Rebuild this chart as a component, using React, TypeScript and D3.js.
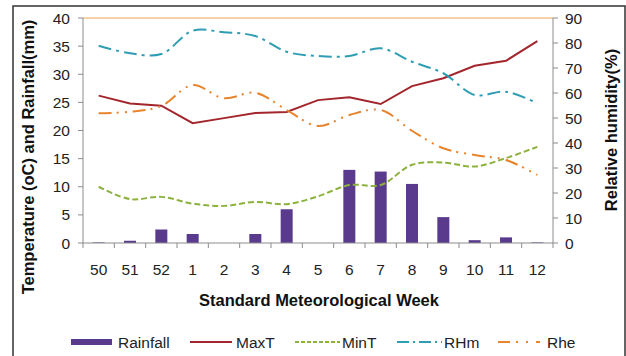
import React from "react";
import * as d3 from "d3";

const weeks = ["50", "51", "52", "1", "2", "3", "4", "5", "6", "7", "8", "9", "10", "11", "12"];
const rainfall = [0.1, 0.4, 2.4, 1.6, 0, 1.6, 6.0, 0, 13.0, 12.7, 10.5, 4.6, 0.5, 1.0, 0.1];
const maxT = [26.2, 24.8, 24.4, 21.3, 22.2, 23.1, 23.3, 25.4, 25.9, 24.7, 27.9, 29.3, 31.5, 32.4, 35.9];
const minT = [10.0, 7.8, 8.2, 7.0, 6.6, 7.3, 6.9, 8.3, 10.3, 10.3, 13.9, 14.3, 13.6, 15.1, 17.1];
const rhm = [78.9, 75.9, 75.6, 84.9, 84.3, 82.8, 76.5, 74.8, 74.8, 77.9, 72.5, 67.9, 59.2, 60.5, 55.9];
const rhe = [51.9, 52.5, 54.8, 63.2, 57.9, 60.1, 53.2, 46.8, 51.2, 53.2, 44.9, 37.9, 35.2, 33.2, 27.2];
const leftTicks = [0, 5, 10, 15, 20, 25, 30, 35, 40];
const rightTicks = [0, 10, 20, 30, 40, 50, 60, 70, 80, 90];

const L = 83, R = 553, T = 18, B = 243;
const font = "Liberation Sans, Arial, sans-serif";

export default function App() {
  const x = d3.scaleBand<string>().domain(weeks).range([L, R]).padding(0);
  const yL = d3.scaleLinear().domain([0, 40]).range([B, T]);
  const yR = d3.scaleLinear().domain([0, 90]).range([B, T]);
  const cx = (i: number) => (x(weeks[i]) as number) + x.bandwidth() / 2;
  const lineL = (curve: any) => d3.line<number>().x((_, i) => cx(i)).y((d) => yL(d)).curve(curve);
  const lineR = (curve: any) => d3.line<number>().x((_, i) => cx(i)).y((d) => yR(d)).curve(curve);
  const barW = 12;
  const axisColor = "#8c8c8c";

  const series = [
    { key: "MaxT", color: "#a3262d", dash: "", d: lineL(d3.curveLinear)(maxT) },
    { key: "MinT", color: "#8cb23c", dash: "6,3", d: lineL(d3.curveCatmullRom)(minT) },
    { key: "RHm", color: "#2f9db3", dash: "13,5,3,5", d: lineR(d3.curveCatmullRom)(rhm) },
    { key: "Rhe", color: "#e8842c", dash: "13,5,2,6,2,6", d: lineR(d3.curveCatmullRom)(rhe) },
  ];

  const legend = [
    { key: "Rainfall", x0: 71, x1: 112, tx: 118, kind: "bar", color: "#5a3a8c", dash: "" },
    { key: "MaxT", x0: 190, x1: 232, tx: 236, kind: "line", color: "#a3262d", dash: "" },
    { key: "MinT", x0: 295, x1: 340, tx: 342, kind: "line", color: "#8cb23c", dash: "4,2" },
    { key: "RHm", x0: 397, x1: 442, tx: 444, kind: "line", color: "#2f9db3", dash: "12,4,2,4" },
    { key: "Rhe", x0: 498, x1: 540, tx: 547, kind: "line", color: "#e8842c", dash: "12,6,2,8,2,8" },
  ];
  const legY = 342;

  return (
    <svg width={626} height={356} style={{ position: "absolute", left: 0, top: 0, background: "#fff" }}>
      <rect x={13} y={6} width={612} height={360} fill="#fff" stroke="#333" strokeWidth={1.5} />
      <line x1={L} x2={R} y1={T} y2={T} stroke="#f0c48a" strokeWidth={1.5} />
      {rainfall.map((v, i) => (
        <rect key={i} x={cx(i) - barW / 2} y={yL(v)} width={barW} height={B - yL(v)} fill="#5a3a8c" />
      ))}
      {series.map((s) => (
        <path key={s.key} d={s.d || ""} fill="none" stroke={s.color} strokeWidth={2} strokeDasharray={s.dash} />
      ))}
      <line x1={L} x2={L} y1={T} y2={B} stroke={axisColor} />
      <line x1={R} x2={R} y1={T} y2={B} stroke={axisColor} />
      <line x1={L} x2={R} y1={B} y2={B} stroke={axisColor} />
      {leftTicks.map((t) => (
        <g key={t}>
          <line x1={L - 5} x2={L} y1={yL(t)} y2={yL(t)} stroke={axisColor} />
          <text x={70} y={yL(t)} dy="0.36em" textAnchor="end" fontSize={15.5} fontFamily={font} fill="#222">{t}</text>
        </g>
      ))}
      {rightTicks.map((t) => (
        <g key={t}>
          <line x1={R} x2={R + 5} y1={yR(t)} y2={yR(t)} stroke={axisColor} />
          <text x={565} y={yR(t)} dy="0.36em" textAnchor="start" fontSize={15.5} fontFamily={font} fill="#222">{t}</text>
        </g>
      ))}
      {weeks.map((w, i) => (
        <line key={"t" + i} x1={x(w) as number} x2={x(w) as number} y1={B} y2={B + 5} stroke={axisColor} />
      ))}
      <line x1={R} x2={R} y1={B} y2={B + 5} stroke={axisColor} />
      {weeks.map((w, i) => (
        <text key={"l" + i} x={cx(i)} y={269} dy="0.36em" textAnchor="middle" fontSize={15.5} fontFamily={font} fill="#222">{w}</text>
      ))}
      <text x={319} y={300} dy="0.36em" textAnchor="middle" fontSize={16.5} fontWeight="bold" fontFamily={font} fill="#111">Standard Meteorological Week</text>
      <text transform="translate(34,157) rotate(-90)" textAnchor="middle" fontSize={16.5} fontWeight="bold" fontFamily={font} fill="#111">Temperature (oC) and Rainfall(mm)</text>
      <text transform="translate(617,130) rotate(-90)" textAnchor="middle" fontSize={16.5} fontWeight="bold" fontFamily={font} fill="#111">Relative humidity(%)</text>
      {legend.map((l) => (
        <g key={l.key}>
          {l.kind === "bar" ? (
            <rect x={l.x0} y={legY - 3} width={l.x1 - l.x0} height={6} fill={l.color} />
          ) : (
            <line x1={l.x0} x2={l.x1} y1={legY} y2={legY} stroke={l.color} strokeWidth={2} strokeDasharray={l.dash} />
          )}
          <text x={l.tx} y={legY} dy="0.36em" fontSize={15.5} fontFamily={font} fill="#222">{l.key}</text>
        </g>
      ))}
    </svg>
  );
}
